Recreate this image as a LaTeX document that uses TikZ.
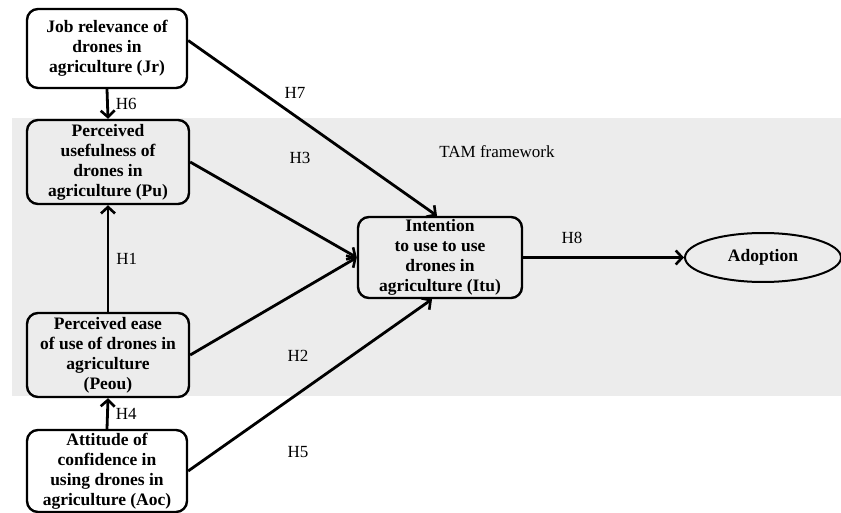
\documentclass[tikz,border=0pt]{standalone}
\usepackage{fontspec}
\setmainfont{Liberation Serif}
\usetikzlibrary{arrows.meta,shapes.geometric,calc}
\definecolor{bandgray}{HTML}{ECECEC}
\begin{document}
\begin{tikzpicture}[x=1pt,y=-1pt,
  box/.style={draw=black, line width=2.4pt, rounded corners=11pt, fill=white,
    align=center, inner sep=0pt, font=\fontsize{17.5}{20}\selectfont\bfseries},
  graybox/.style={box, fill=bandgray},
  conn/.style={line width=2.8pt, -{Straight Barb[length=6.5pt,width=14pt,line width=2.6pt]}},
  lbl/.style={font=\fontsize{17}{20}\selectfont, inner sep=0pt}
]
\useasboundingbox (0,0) rectangle (841,513);
\fill[white] (0,0) rectangle (841,513);
\fill[bandgray] (12,118) rectangle (841,396);
\node[lbl] (tam) at (497,152) {TAM framework};

\node[box, minimum width=160pt, minimum height=79pt] (jr) at (107,48.5)
  {Job relevance of\\drones in\\agriculture (Jr)};
\node[graybox, minimum width=162pt, minimum height=84pt] (pu) at (108,162)
  {Perceived\\usefulness of\\drones in\\agriculture (Pu)};
\node[graybox, minimum width=162pt, minimum height=84pt] (peou) at (108,355)
  {Perceived ease\\of use of drones in\\agriculture\\(Peou)};
\node[box, minimum width=160pt, minimum height=82pt] (aoc) at (107,471)
  {Attitude of\\confidence in\\using drones in\\agriculture (Aoc)};
\node[graybox, minimum width=164pt, minimum height=81pt] (itu) at (440,257.5)
  {Intention\\to use to use\\drones in\\agriculture (Itu)};
\node[ellipse, draw=black, line width=2pt, fill=bandgray, minimum width=156pt,
  minimum height=49pt, inner sep=0pt, font=\fontsize{17.5}{20}\selectfont\bfseries]
  (adopt) at (763,257.5) {Adoption};

\coordinate (jre) at ($(jr.east)+(0,-8)$);
\coordinate (itutop) at ($(itu.north)+(-3,0)$);
\coordinate (itubot) at ($(itu.south)+(-8,0)$);
\draw[conn] (jr.south) -- (pu.north) node[lbl, midway, right=7pt] {H6};
\draw[conn] (peou.north) -- (pu.south) node[lbl, pos=0.5, right=7pt] {H1};
\draw[conn] (aoc.north) -- (peou.south) node[lbl, midway, right=7pt] {H4};
\draw[conn] (jre) -- (itutop);
\draw[conn] (pu.east) -- (itu.west);
\draw[conn] (peou.east) -- (itu.west);
\draw[conn] (aoc.east) -- (itubot);
\draw[conn] (itu.east) -- (adopt.west);
\node[lbl] (h7) at (295,93) {H7};
\node[lbl] (h3) at (300,158) {H3};
\node[lbl] (h2) at (298,356) {H2};
\node[lbl] (h5) at (298,452) {H5};
\node[lbl] (h8) at (572,238) {H8};
\end{tikzpicture}
\end{document}
